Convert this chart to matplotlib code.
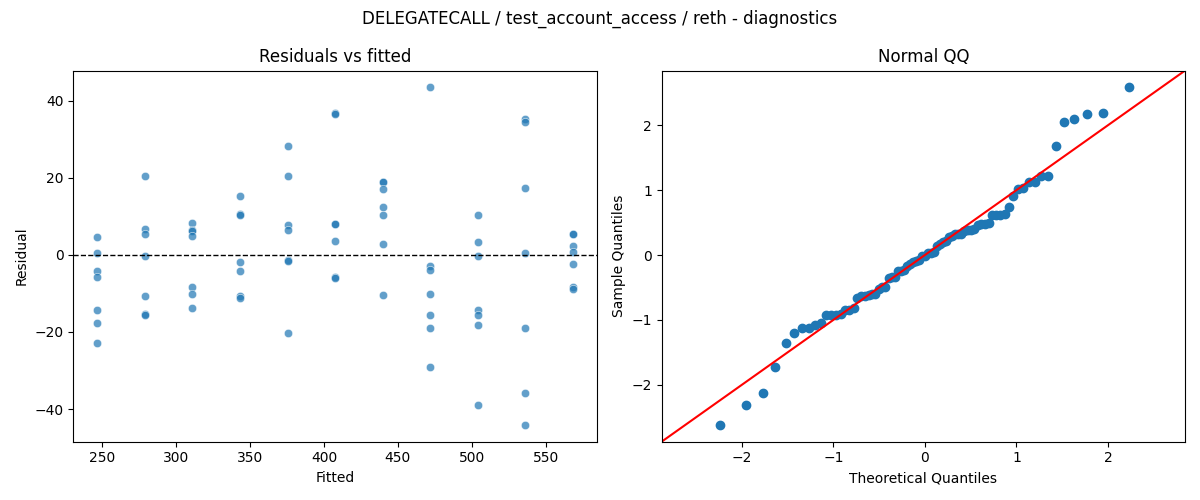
import matplotlib
matplotlib.use("Agg")
import matplotlib.pyplot as plt
import seaborn as sns
import numpy as np
from statistics import NormalDist

# fitted levels (one per column of points)
fitted_levels = [246.5, 278.7, 310.9, 343.1, 375.3, 407.5, 439.7, 471.9, 504.1, 536.3, 568.5]

# residuals, one list per fitted level
res_246 = [4.7, 0.5, -4.2, -5.8, -14.3, -17.7, -22.9]
res_279 = [20.4, 6.7, 5.4, -0.3, -10.7, -15.3, -15.6]
res_311 = [8.3, 6.4, 6.1, 4.8, -8.3, -10.1, -13.7]
res_343 = [15.3, 10.7, 10.4, -1.9, -4.2, -10.8, -11.1]
res_375 = [28.2, 20.4, 7.8, 6.4, -1.3, -1.5, -20.3]
res_408 = [36.9, 36.5, 8.1, 7.9, 3.5, -5.7, -5.9]
res_440 = [19.0, 18.8, 17.0, 12.4, 10.3, 2.8, -10.4]
res_472 = [43.4, -3.0, -3.9, -10.1, -15.6, -19.0, -29.0]
res_504 = [10.3, 3.3, -0.3, -14.2, -15.6, -18.2, -38.9]
res_536 = [35.2, 34.4, 17.3, 0.5, -19.0, -35.8, -44.1]
res_569 = [5.5, 5.3, 2.3, 0.8, -2.4, -8.4, -8.9]

groups = [res_246, res_279, res_311, res_343, res_375, res_408,
          res_440, res_472, res_504, res_536, res_569]

fitted = []
resid = []
for lvl, g in zip(fitted_levels, groups):
    for r in g:
        fitted.append(lvl)
        resid.append(r)
fitted = np.array(fitted)
resid = np.array(resid)

fig, (ax1, ax2) = plt.subplots(1, 2, figsize=(12, 5), dpi=100)

# residuals vs fitted
sns.scatterplot(x=fitted, y=resid, alpha=0.7, ax=ax1)
ax1.axhline(0, color="black", linestyle="--", linewidth=1)
ax1.set_title("Residuals vs fitted")
ax1.set_xlabel("Fitted")
ax1.set_ylabel("Residual")

# normal QQ of standardised residuals
n = len(resid)
sample = np.sort((resid - resid.mean()) / resid.std())
nd = NormalDist()
theo = np.array([nd.inv_cdf(i / (n + 1)) for i in range(1, n + 1)])
ax2.plot(theo, sample, "o", color="C0", markersize=6)
lo = min(ax2.get_xlim()[0], ax2.get_ylim()[0])
hi = max(ax2.get_xlim()[1], ax2.get_ylim()[1])
ax2.plot([lo, hi], [lo, hi], color="red")
ax2.set_xlim(lo, hi)
ax2.set_ylim(lo, hi)
ax2.set_title("Normal QQ")
ax2.set_xlabel("Theoretical Quantiles")
ax2.set_ylabel("Sample Quantiles")

fig.suptitle("DELEGATECALL / test_account_access / reth - diagnostics")
plt.tight_layout()
plt.savefig("out.png")
